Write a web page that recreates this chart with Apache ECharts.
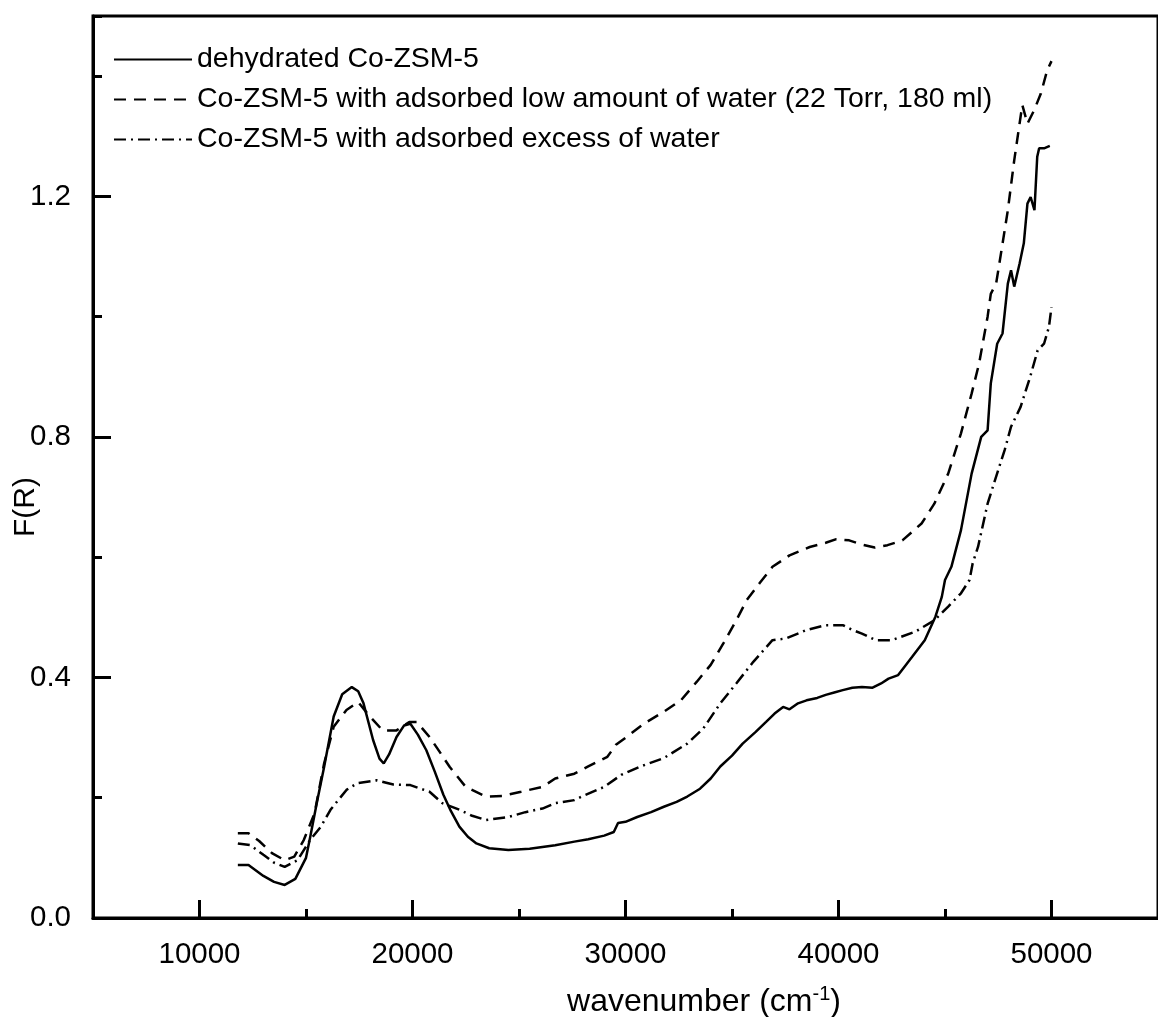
<!DOCTYPE html>
<html>
<head>
<meta charset="utf-8">
<script src="https://cdn.jsdelivr.net/npm/echarts@6/dist/echarts.min.js"></script>
<style>
html,body{margin:0;padding:0;background:#fff;}
#chart{width:1158px;height:1017px;}
</style>
</head>
<body>
<div id="chart"></div>
<script>
// ---- data ----
const seriesNames = [
  'dehydrated Co-ZSM-5',
  'Co-ZSM-5 with adsorbed low amount of water (22 Torr, 180 ml)',
  'Co-ZSM-5 with adsorbed excess of water'
];
const xTickLabels = [10000, 20000, 30000, 40000, 50000];
const xMinorTicks = [15000, 25000, 35000, 45000];

const wnDehydrated = [11800,12300,13000,13500,14000,14500,15000,15200,15500,15850,16300,16700,17150,17450,17700,18150,18450,18650,18900,19250,19600,19900,20250,20650,21050,21450,21800,22200,22600,23000,23600,24500,25500,26100,26700,27600,28250,29000,29450,29650,30000,30550,31200,31800,32400,32900,33500,34000,34450,35000,35500,36100,36600,37000,37400,37700,38100,38500,39000,39400,39800,40200,40650,41100,41600,42000,42350,42800,43100,43450,44050,44550,44850,45000,45300,45750,46250,46700,47000,47150,47450,47700,47950,48100,48250,48500,48700,48870,49020,49200,49330,49420,49650,49920];
const fDehydrated = [0.088,0.088,0.070,0.060,0.055,0.065,0.100,0.135,0.190,0.251,0.335,0.372,0.384,0.377,0.357,0.296,0.265,0.257,0.272,0.301,0.320,0.323,0.305,0.279,0.243,0.205,0.178,0.152,0.135,0.124,0.116,0.113,0.115,0.118,0.121,0.127,0.131,0.137,0.143,0.158,0.160,0.168,0.176,0.185,0.193,0.202,0.215,0.232,0.252,0.270,0.290,0.309,0.326,0.340,0.351,0.347,0.357,0.362,0.366,0.371,0.375,0.379,0.383,0.384,0.383,0.390,0.398,0.404,0.418,0.434,0.462,0.501,0.534,0.562,0.584,0.645,0.739,0.800,0.811,0.889,0.955,0.972,1.055,1.077,1.050,1.088,1.122,1.188,1.199,1.177,1.266,1.280,1.280,1.284];

const wnLowWater = [11800,12300,12800,13400,14000,14450,14900,15400,15850,16300,16900,17450,18000,18600,19250,19850,20200,20800,21300,21750,22500,23450,24200,25100,26100,26700,27600,28250,29150,29550,30050,30900,31800,32600,33350,34000,34600,35200,35700,36300,36900,37700,38650,39400,39900,40500,41000,41700,42300,43000,43900,44500,45150,45750,46250,46600,47000,47150,47400,47650,47950,48250,48480,48630,48870,49180,49500,49800,50000];
const fLowWater = [0.141,0.141,0.128,0.108,0.096,0.102,0.130,0.174,0.257,0.318,0.346,0.359,0.335,0.312,0.312,0.326,0.326,0.301,0.275,0.251,0.218,0.202,0.203,0.210,0.218,0.232,0.240,0.252,0.268,0.288,0.301,0.324,0.343,0.362,0.393,0.421,0.457,0.495,0.529,0.557,0.584,0.603,0.617,0.624,0.630,0.628,0.622,0.616,0.620,0.628,0.656,0.689,0.739,0.806,0.872,0.922,1.000,1.038,1.055,1.110,1.177,1.260,1.316,1.352,1.321,1.343,1.371,1.410,1.425];

const wnExcess = [11800,12400,13000,13500,14000,14600,15200,15700,16150,16900,17400,18300,19100,19900,20800,21400,22200,22800,23450,24500,25300,26100,26700,27600,27950,29000,29800,30700,31800,32900,33650,34450,35200,36000,36900,37550,38500,39400,40200,40650,41100,41750,42500,43600,44500,45150,45750,46150,46300,46550,47000,47300,47800,48100,48550,49000,49350,49650,49880,50000];
const fExcess = [0.124,0.121,0.105,0.092,0.085,0.096,0.130,0.152,0.180,0.213,0.224,0.229,0.222,0.221,0.210,0.191,0.180,0.170,0.163,0.168,0.176,0.182,0.191,0.196,0.202,0.218,0.238,0.252,0.266,0.290,0.315,0.357,0.390,0.426,0.462,0.465,0.479,0.487,0.487,0.479,0.473,0.462,0.462,0.476,0.495,0.518,0.540,0.562,0.590,0.617,0.689,0.723,0.778,0.817,0.850,0.900,0.944,0.955,0.983,1.016];

function zip(xs, ys){ return xs.map((x,i)=>[x, ys[i]]); }

const FONT = "'Liberation Sans', Arial, sans-serif";
const chart = echarts.init(document.getElementById('chart'), null, {renderer:'canvas'});

const option = {
  backgroundColor: '#fff',
  animation: false,
  grid: {left: 93, top: 16, bottom: 99, right: -11, show: true, borderColor: '#000', borderWidth: 3, containLabel: false},
  legend: {
    orient: 'vertical', left: 108, top: 40,
    itemWidth: 78, itemHeight: 14, itemGap: 11,
    itemStyle: {color: 'rgba(0,0,0,0)', borderColor: 'rgba(0,0,0,0)', borderWidth: 0, opacity: 0},
    textStyle: {fontFamily: FONT, fontSize: 28.5, color: '#000'},
    data: seriesNames
  },
  xAxis: [{
    type: 'value', min: 5000, max: 55000, position: 'bottom',
    axisLine: {show: true, lineStyle: {color: '#000', width: 3}},
    axisTick: {show: true, inside: true, length: 18, lineStyle: {color: '#000', width: 3}, customValues: xTickLabels},
    axisLabel: {show: true, margin: 22, fontFamily: FONT, fontSize: 29.5, color: '#000', customValues: xTickLabels,
      formatter: v => String(v)},
    splitLine: {show: false}
  }, {
    type: 'value', min: 5000, max: 55000, position: 'bottom',
    axisLine: {show: false},
    axisTick: {show: true, inside: true, length: 9, lineStyle: {color: '#000', width: 3}, customValues: xMinorTicks},
    axisLabel: {show: false, customValues: xMinorTicks},
    splitLine: {show: false}
  }],
  yAxis: [{
    type: 'value', min: 0, max: 1.5, interval: 0.4, position: 'left',
    axisLine: {show: true, lineStyle: {color: '#000', width: 3}},
    axisTick: {show: true, inside: true, length: 18, lineStyle: {color: '#000', width: 3}},
    axisLabel: {show: true, margin: 22, fontFamily: FONT, fontSize: 29.5, color: '#000', showMaxLabel: false,
      formatter: v => (Math.abs(v - 1.5) < 1e-6 ? '' : v.toFixed(1))},
    splitLine: {show: false}
  }, {
    type: 'value', min: 0, max: 1.5, interval: 0.2, position: 'left',
    axisLine: {show: false},
    axisTick: {show: true, inside: true, length: 9, lineStyle: {color: '#000', width: 3}},
    axisLabel: {show: false},
    splitLine: {show: false}
  }],
  graphic: [{
    type: 'text', x: 704, y: 1002,
    style: {
      text: '{a|wavenumber (cm}{s|-1}{a|)}',
      align: 'center', verticalAlign: 'middle',
      rich: {
        a: {fontFamily: FONT, fontSize: 32, fill: '#000'},
        s: {fontFamily: FONT, fontSize: 20, fill: '#000', padding: [0, 0, 16, 0]}
      }
    }
  }, {
    type: 'text', x: 26, y: 507, rotation: Math.PI / 2,
    style: {text: 'F(R)', fontFamily: FONT, fontSize: 30, fill: '#000', align: 'center', verticalAlign: 'middle'}
  }],
  series: [{
    name: seriesNames[0], type: 'line', xAxisIndex: 0, yAxisIndex: 0,
    data: zip(wnDehydrated, fDehydrated), symbol: 'none', showSymbol: false,
    lineStyle: {color: '#000', width: 2.5, type: 'solid'}, itemStyle: {color: '#000'}
  }, {
    name: seriesNames[1], type: 'line', xAxisIndex: 0, yAxisIndex: 0,
    data: zip(wnLowWater, fLowWater), symbol: 'none', showSymbol: false,
    lineStyle: {color: '#000', width: 2.5, type: [12, 8]}, itemStyle: {color: '#000'}
  }, {
    name: seriesNames[2], type: 'line', xAxisIndex: 0, yAxisIndex: 0,
    data: zip(wnExcess, fExcess), symbol: 'none', showSymbol: false,
    lineStyle: {color: '#000', width: 2.5, type: [12, 5, 2, 5]}, itemStyle: {color: '#000'}
  }]
};
chart.setOption(option);
</script>
</body>
</html>
